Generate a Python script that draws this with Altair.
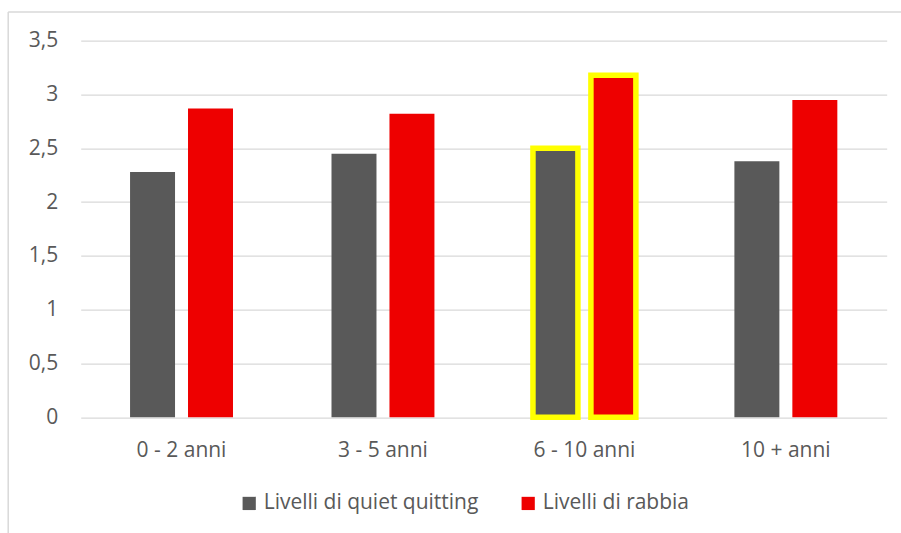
import altair as alt
import pandas as pd

# Seniority bands and the two measured levels for each band
categories = ["0 - 2 anni", "3 - 5 anni", "6 - 10 anni", "10 + anni"]
series_names = ["Livelli di quiet quitting", "Livelli di rabbia"]
quiet_quitting = [2.28, 2.45, 2.50, 2.38]
rabbia = [2.87, 2.82, 3.18, 2.95]
highlighted = ["6 - 10 anni"]

series_colors = ["#595959", "#EE0000"]
text_color = "#595959"
grid_color = "#D9D9D9"
font = "Open Sans"
font_size = 21

rows = []
for cat, q, r in zip(categories, quiet_quitting, rabbia):
    rows.append({"category": cat, "series": series_names[0], "value": q})
    rows.append({"category": cat, "series": series_names[1], "value": r})
df = pd.DataFrame(rows)

bars = alt.Chart(df).mark_bar(strokeWidth=5.5).encode(
    x=alt.X(
        "category:N",
        sort=categories,
        title=None,
        scale=alt.Scale(paddingInner=0.489, paddingOuter=0.245),
        axis=alt.Axis(
            labelAngle=0,
            ticks=False,
            domain=False,
            grid=False,
            labelPadding=39,
            labelBaseline="alphabetic",
            labelFontSize=font_size,
            labelFont=font,
            labelColor=text_color,
        ),
    ),
    xOffset=alt.XOffset(
        "series:N",
        sort=series_names,
        scale=alt.Scale(paddingInner=0.224, paddingOuter=0),
    ),
    y=alt.Y(
        "value:Q",
        title=None,
        scale=alt.Scale(domain=[0, 3.5], nice=False),
        axis=alt.Axis(
            values=[0, 0.5, 1, 1.5, 2, 2.5, 3, 3.5],
            format=",.1~f",
            ticks=False,
            domain=False,
            gridColor=grid_color,
            gridWidth=1.3,
            labelPadding=23,
            labelFontSize=font_size,
            labelFont=font,
            labelColor=text_color,
        ),
    ),
    color=alt.Color(
        "series:N",
        sort=series_names,
        scale=alt.Scale(domain=series_names, range=series_colors),
        legend=alt.Legend(
            title=None,
            orient="none",
            direction="horizontal",
            legendX=158,
            legendY=452,
            symbolType="square",
            symbolSize=175,
            symbolStrokeWidth=0,
            symbolOpacity=1,
            labelFontSize=font_size,
            labelFont=font,
            labelColor=text_color,
            labelLimit=0,
            labelOffset=4,
            columnPadding=39,
            padding=0,
        ),
    ),
    stroke=alt.condition(
        alt.FieldOneOfPredicate(field="category", oneOf=highlighted),
        alt.value("#FFFF00"),
        alt.value("transparent"),
    ),
)

# Light frame around the chart area (top and left edges)
frame = alt.Chart(alt.Data(values=[{}])).mark_rule(color=grid_color, strokeWidth=1.5)
frame_top = frame.encode(x=alt.value(-72.5), x2=alt.value(830), y=alt.value(-28.7))
frame_left = frame.encode(x=alt.value(-72.5), y=alt.value(-28.7), y2=alt.value(500))

chart = alt.layer(frame_top, frame_left, bars).properties(
    width=806,
    height=376.6,
    autosize=alt.AutoSizeParams(type="none"),
    padding={"left": 80.7, "top": 40.7, "right": 14, "bottom": 116},
).configure(
    locale={"number": {"decimal": ",", "thousands": ".", "grouping": [3], "currency": ["", " €"]}},
).configure_view(stroke=None).configure_axis(gridOpacity=1)

chart.save("out.html", embed_options={"renderer": "svg", "actions": False})
